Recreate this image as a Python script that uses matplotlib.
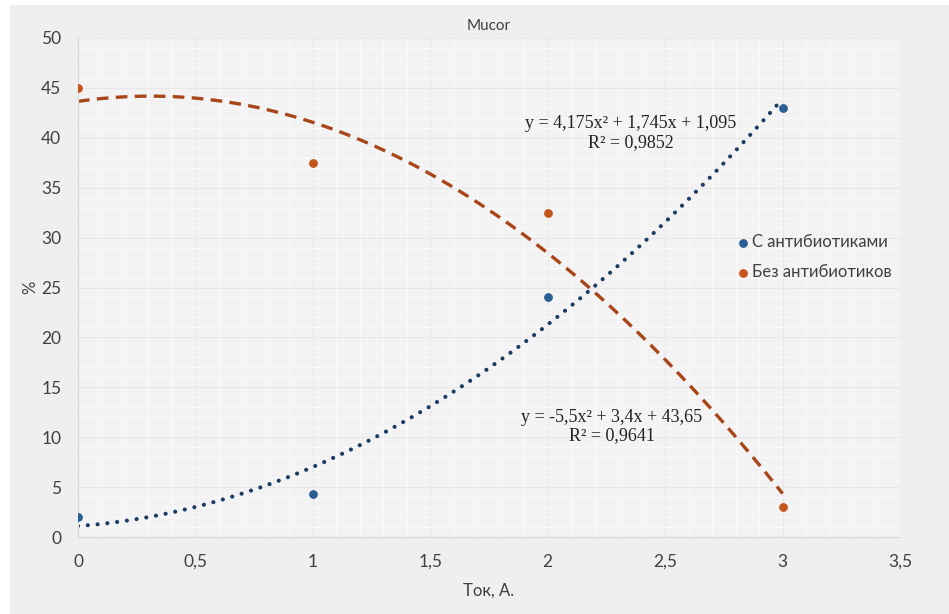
import numpy as np
import matplotlib.pyplot as plt
from matplotlib.patches import Rectangle
from matplotlib.ticker import MultipleLocator

# data
tok = [0, 1, 2, 3]
s_antib = [2, 4.3, 24, 43]
bez_antib = [45, 37.5, 32.5, 3]

# trendline coefficients as printed on the chart
coef_s = [4.175, 1.745, 1.095]
coef_bez = [-5.5, 3.4, 43.65]
eq_s = "y = 4,175x² + 1,745x + 1,095\nR² = 0,9852"
eq_bez = "y = -5,5x² + 3,4x + 43,65\nR² = 0,9641"

xticks = [0, 0.5, 1, 1.5, 2, 2.5, 3, 3.5]
xticklabels = ["0", "0,5", "1", "1,5", "2", "2,5", "3", "3,5"]
yticks = [0, 5, 10, 15, 20, 25, 30, 35, 40, 45, 50]

blue = "#2b5f93"
orange = "#c4561d"
txtc = "#404040"
sans = ["Lato", "DejaVu Sans"]

fig = plt.figure(figsize=(9.49, 6.14), dpi=100, facecolor="white")
fig.patches.append(Rectangle((10/949, 0), 1, 1 - 5/614, transform=fig.transFigure,
                             facecolor="#efefef", edgecolor="none", zorder=-10))
ax = fig.add_axes([78/949, 1 - 537/614, 822/949, 499/614])
ax.set_facecolor("#f3f3f3")

ax.set_xlim(0, 3.5)
ax.set_ylim(0, 50)
ax.set_xticks(xticks)
ax.set_xticklabels(xticklabels)
ax.set_yticks(yticks)
ax.xaxis.set_minor_locator(MultipleLocator(0.1))
ax.yaxis.set_minor_locator(MultipleLocator(1))
ax.grid(which="major", color="#e7e7e7", lw=0.8)
ax.grid(which="minor", color="#f9f9f9", lw=0.8)
ax.set_axisbelow(True)
ax.tick_params(which="both", length=0, colors=txtc, labelsize=12.5, pad=12)
for lab in ax.get_xticklabels() + ax.get_yticklabels():
    lab.set_family(sans)
for side in ["top", "right"]:
    ax.spines[side].set_visible(False)
for side in ["left", "bottom"]:
    ax.spines[side].set_color("#dadada")

xx = np.linspace(0, 3, 200)
ax.plot(xx, np.polyval(coef_s, xx), color="#1b3d63", lw=3.0, ls=(0, (0.01, 2.35)),
        dash_capstyle="round")
ax.plot(xx, np.polyval(coef_bez, xx), color="#a8461a", lw=2.4, ls=(0, (3.5, 2.2)))

ax.scatter(tok, s_antib, s=28, color=blue, zorder=3, label="С антибиотиками")
ax.scatter(tok, bez_antib, s=28, color=orange, zorder=3, label="Без антибиотиков")

ax.text(2.354, 40.5, eq_s, ha="center", va="center", family="Liberation Serif",
        fontsize=13, color="#222222", linespacing=1.15)
ax.text(2.273, 11.07, eq_bez, ha="center", va="center", family="Liberation Serif",
        fontsize=13, color="#222222", linespacing=1.15)

leg = ax.legend(loc="center left", bbox_to_anchor=(0.782, 0.561), frameon=False,
                prop={"family": sans, "size": 12}, handletextpad=0.05,
                handlelength=0.9, labelspacing=0.85, labelcolor=txtc)

ax.set_title("Mucor", family=sans, fontsize=11, color=txtc, pad=6)
ax.set_xlabel("Ток, А.", family=sans, fontsize=12, color=txtc, labelpad=9)
ax.set_ylabel("%", family=sans, fontsize=12, color=txtc, labelpad=2)

fig.savefig("out.png", dpi=100, facecolor=fig.get_facecolor())
